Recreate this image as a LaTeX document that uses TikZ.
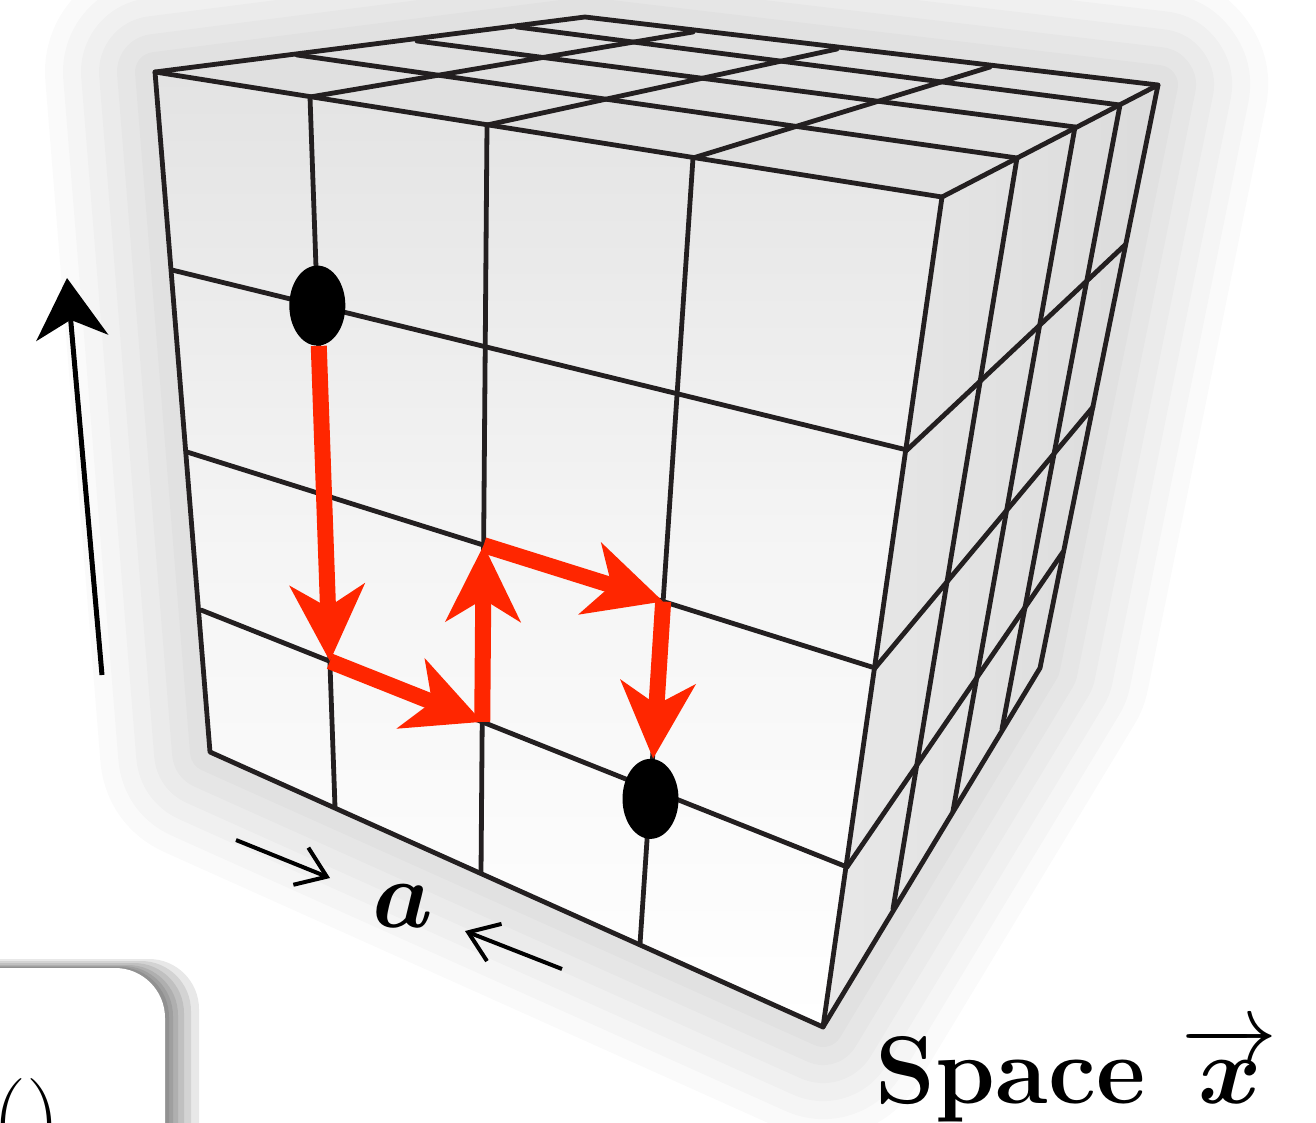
\documentclass[tikz,border=0pt]{standalone}
\usepackage{amsmath}
\usepackage{tikz}
\usetikzlibrary{arrows.meta, shapes.geometric}
\definecolor{walkred}{RGB}{255,38,0}
\definecolor{gridblack}{RGB}{35,31,32}

\begin{document}
\begin{tikzpicture}[x=0.5pt, y=-0.5pt,
    % Cube styles
    gridline/.style={draw=gridblack, line width=2.4pt, line join=round, line cap=round},
    glow/.style={draw=black, opacity=0.02, line join=round},
    % Path styles
    site/.style={ellipse, fill=black, minimum width=28pt, minimum height=40pt, inner sep=0pt},
    walk/.style={draw=walkred, line width=8pt, -{Stealth[length=38pt, width=37pt, inset=11pt]}},
    % Annotation styles
    axis/.style={draw=black, line width=2.5pt, -{Stealth[length=30pt, width=36pt, inset=9pt]}},
    span/.style={draw=black, line width=2pt, -{Straight Barb[length=14pt, width=20pt]}},
    bigtext/.style={font=\Huge, scale=1.93, inner sep=0pt},
    shade/.style={fill=black, opacity=0.09, rounded corners=25pt}
]

\useasboundingbox (0,0) rectangle (1316,1123);

% Cube corners
\coordinate (A) at (155,72);
\coordinate (B) at (942,197);
\coordinate (C) at (210,752);
\coordinate (D) at (823,1027);
\coordinate (E) at (1158,85);
\coordinate (F) at (1040,668);
\coordinate (H) at (585,17);

% Front face - edge points
\coordinate (ft1) at (310,97);
\coordinate (ft2) at (487,125);
\coordinate (ft3) at (693,158);
\coordinate (fb1) at (335,807);
\coordinate (fb2) at (481,873);
\coordinate (fb3) at (640,944);
\coordinate (fl1) at (172,270);
\coordinate (fl2) at (187,452);
\coordinate (fl3) at (201,610);
\coordinate (fr1) at (907,450);
\coordinate (fr2) at (875,668);
\coordinate (fr3) at (847,867);

% Side face - edge points
\coordinate (st1) at (1017,158);
\coordinate (st2) at (1075,127);
\coordinate (st3) at (1120,105);
\coordinate (sb1) at (893,909);
\coordinate (sb2) at (953,811);
\coordinate (sb3) at (1002,729);
\coordinate (sk1) at (1125,245);
\coordinate (sk2) at (1093,407);
\coordinate (sk3) at (1063,552);

% Top face - edge points
\coordinate (tl1) at (297,55);
\coordinate (tl2) at (417,41);
\coordinate (tl3) at (517,27);
\coordinate (tk1) at (693,32);
\coordinate (tk2) at (837,49);
\coordinate (tk3) at (990,67);

% Lattice sites on the walk
\coordinate (q11) at (intersection of ft1--fb1 and fl1--fr1);
\coordinate (q31) at (intersection of ft1--fb1 and fl3--fr3);
\coordinate (q32) at (intersection of ft2--fb2 and fl3--fr3);
\coordinate (q22) at (intersection of ft2--fb2 and fl2--fr2);
\coordinate (q23) at (intersection of ft3--fb3 and fl2--fr2);
\coordinate (q33) at (intersection of ft3--fb3 and fl3--fr3);

% Soft glow round the cube
\draw[glow, line width=110pt] (A) -- (H) -- (E) -- (F) -- (D) -- (C) -- cycle;
\draw[glow, line width=92pt] (A) -- (H) -- (E) -- (F) -- (D) -- (C) -- cycle;
\draw[glow, line width=74pt] (A) -- (H) -- (E) -- (F) -- (D) -- (C) -- cycle;
\draw[glow, line width=56pt] (A) -- (H) -- (E) -- (F) -- (D) -- (C) -- cycle;
\draw[glow, line width=38pt] (A) -- (H) -- (E) -- (F) -- (D) -- (C) -- cycle;
\draw[glow, line width=20pt] (A) -- (H) -- (E) -- (F) -- (D) -- (C) -- cycle;

% Faces
\fill[top color=black!11, bottom color=white, middle color=black!4] (A) -- (B) -- (D) -- (C) -- cycle;
\fill[left color=black!9, right color=black!14] (B) -- (E) -- (F) -- (D) -- cycle;
\fill[black!12] (A) -- (H) -- (E) -- (B) -- cycle;

% Front face
\draw[gridline] (A) -- (B) -- (D) -- (C) -- cycle;
\draw[gridline] (ft1) -- (fb1);
\draw[gridline] (ft2) -- (fb2);
\draw[gridline] (ft3) -- (fb3);
\draw[gridline] (fl1) -- (fr1);
\draw[gridline] (fl2) -- (fr2);
\draw[gridline] (fl3) -- (fr3);

% Side face
\draw[gridline] (B) -- (E) -- (F) -- (D);
\draw[gridline] (st1) -- (sb1);
\draw[gridline] (st2) -- (sb2);
\draw[gridline] (st3) -- (sb3);
\draw[gridline] (fr1) -- (sk1);
\draw[gridline] (fr2) -- (sk2);
\draw[gridline] (fr3) -- (sk3);

% Top face
\draw[gridline] (A) -- (H) -- (E);
\draw[gridline] (tl1) -- (st1);
\draw[gridline] (tl2) -- (st2);
\draw[gridline] (tl3) -- (st3);
\draw[gridline] (ft1) -- (tk1);
\draw[gridline] (ft2) -- (tk2);
\draw[gridline] (ft3) -- (tk3);

% Start and end sites
\node[site] (start) at (q11) {};
\node[site] (end) at ([yshift=-5pt]q33) {};

% Walk
\draw[walk] (start) -- (q31);
\draw[walk] (q31) -- (q32);
\draw[walk] (q32) -- (q22);
\draw[walk] (q22) -- (q23);
\draw[walk] (q23) -- (end);

% Time axis
\coordinate (t0) at (102,675);
\coordinate (t1) at (67,278);
\draw[axis] (t0) -- (t1);

% Lattice spacing
\node[bigtext] (spacing) at (403,906) {$\boldsymbol{a}$};
\coordinate (s1) at (236,840);
\coordinate (s2) at (330,878);
\coordinate (s3) at (562,969);
\coordinate (s4) at (465,931);
\draw[span] (s1) -- (s2);
\draw[span] (s3) -- (s4);

% Space label
\node[bigtext, anchor=base west] (space) at (875,1103) {\bfseries Space $\overrightarrow{\boldsymbol{x}}$};

% Panel in the lower left corner
\fill[shade] (-60,967) rectangle (169,1200);
\fill[shade] (-60,966) rectangle (173,1200);
\fill[shade] (-60,965) rectangle (178,1200);
\fill[shade] (-60,963) rectangle (184,1200);
\fill[shade] (-60,961) rectangle (191,1200);
\fill[shade] (-60,959) rectangle (199,1200);
\fill[white, rounded corners=25pt] (-60,968) rectangle (165,1200);
\node[bigtext, anchor=base west] (bracket) at (-8,1150) {()};

\end{tikzpicture}
\end{document}
